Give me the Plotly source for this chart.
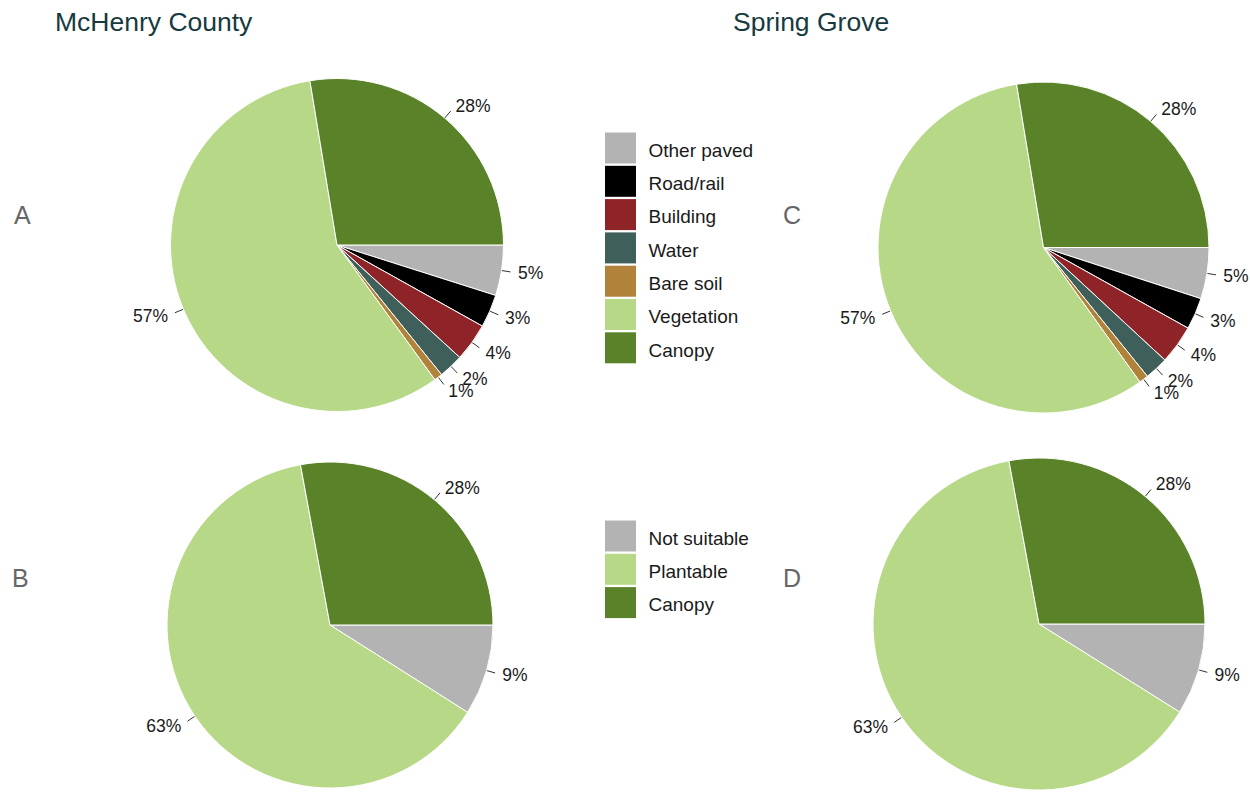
import math
import plotly.graph_objects as go

# ---------------- data ----------------
cover_labels = ["Other paved", "Road/rail", "Building", "Water", "Bare soil", "Vegetation", "Canopy"]
mchenry_cover = [4.9, 3.2, 3.7, 2.4, 0.8, 57.4, 27.6]
springgrove_cover = [5.0, 3.1, 3.8, 2.3, 0.9, 57.3, 27.6]

plant_labels = ["Not suitable", "Plantable", "Canopy"]
mchenry_plant = [9.0, 63.1, 27.9]
springgrove_plant = [8.9, 63.2, 27.9]

cover_colors = {"Canopy": "#5a8229", "Vegetation": "#b7d886", "Bare soil": "#b0823a",
                "Water": "#3f5f5a", "Building": "#8e2328", "Road/rail": "#000000",
                "Other paved": "#b3b3b3"}
plant_colors = {"Canopy": "#5a8229", "Plantable": "#b7d886", "Not suitable": "#b3b3b3"}

titles = ["McHenry County", "Spring Grove"]
panel_letters = ["A", "B", "C", "D"]

# ---------------- layout constants (pixels) ----------------
W, H = 1250, 793
pies = [
    # (cx, cy, r, labels, values, colors)
    (337, 245, 166.5, cover_labels, mchenry_cover, cover_colors),
    (330, 625, 163, plant_labels, mchenry_plant, plant_colors),
    (1043.5, 247.5, 165.5, cover_labels, springgrove_cover, cover_colors),
    (1039, 624, 166, plant_labels, springgrove_plant, plant_colors),
]
letter_pos = [(22, 215), (20, 578), (792, 215), (792, 578)]
title_pos = [(154, 22), (811, 22)]
TEXT_DY = 2  # small baseline correction for text rendering

fig = go.Figure()

label_font = dict(family="Liberation Sans, Arial, sans-serif", size=17.5, color="#1a1a1a")

for (cx, cy, r, labs, vals, cmap) in pies:
    fig.add_trace(go.Pie(
        labels=labs, values=vals, sort=False, direction="clockwise", rotation=90,
        marker=dict(colors=[cmap[l] for l in labs], line=dict(color="white", width=1)),
        textinfo="none", hoverinfo="label+percent", showlegend=False,
        domain=dict(x=[(cx - r) / W, (cx + r) / W], y=[1 - (cy + r) / H, 1 - (cy - r) / H]),
    ))
    # leader ticks and percentage labels derived from the values (clockwise from 3 o'clock)
    total = sum(vals)
    cum = 0.0
    lx, ly = [], []
    right = dict(x=[], y=[], t=[])
    left = dict(x=[], y=[], t=[])
    for v in vals:
        mid = -2 * math.pi * (cum + v / 2) / total
        cum += v
        c, s = math.cos(mid), math.sin(mid)
        lx += [cx + r * 1.0 * c, cx + r * 1.055 * c, None]
        ly += [cy - r * 1.0 * s, cy - r * 1.055 * s, None]
        side = right if c >= 0 else left
        side["x"].append(cx + r * 1.1 * c)
        side["y"].append(cy - r * 1.1 * s + TEXT_DY)
        side["t"].append(f"{round(100 * v / total)}%")
    fig.add_trace(go.Scatter(x=lx, y=ly, mode="lines", line=dict(color="#333333", width=1),
                             hoverinfo="skip", showlegend=False))
    for side, pos in [(right, "middle right"), (left, "middle left")]:
        fig.add_trace(go.Scatter(x=side["x"], y=side["y"], mode="text", text=side["t"],
                                 textposition=pos, textfont=label_font,
                                 hoverinfo="skip", showlegend=False, cliponaxis=False))

# custom legends (large square keys)
legend_font = dict(family="Liberation Sans, Arial, sans-serif", size=19, color="#1a1a1a")
for items, cmap, y0 in [(cover_labels, cover_colors, 148), (plant_labels, plant_colors, 536)]:
    ys = [y0 + 33.3 * i for i in range(len(items))]
    fig.add_trace(go.Scatter(x=[620.5] * len(items), y=ys, mode="markers",
                             marker=dict(symbol="square", size=31, color=[cmap[i] for i in items],
                                         line=dict(width=0)),
                             hoverinfo="skip", showlegend=False, cliponaxis=False))
    fig.add_trace(go.Scatter(x=[648.5] * len(items), y=[y + 2 + TEXT_DY for y in ys], mode="text",
                             text=items, textposition="middle right", textfont=legend_font,
                             hoverinfo="skip", showlegend=False, cliponaxis=False))

annotations = []
for (x, y), t in zip(title_pos, titles):
    annotations.append(dict(x=x, y=y, xref="x", yref="y", text=t, showarrow=False,
                            font=dict(family="Liberation Sans, Arial, sans-serif", size=26.5, color="#163a40")))
for (x, y), t in zip(letter_pos, panel_letters):
    annotations.append(dict(x=x, y=y, xref="x", yref="y", text=t, showarrow=False,
                            font=dict(family="Liberation Sans, Arial, sans-serif", size=25, color="#666666")))

fig.update_layout(
    width=W, height=H, margin=dict(l=0, r=0, t=0, b=0),
    paper_bgcolor="white", plot_bgcolor="white",
    xaxis=dict(range=[0, W], domain=[0, 1], visible=False, fixedrange=True),
    yaxis=dict(range=[H, 0], domain=[0, 1], visible=False, fixedrange=True),
    annotations=annotations,
)

fig.write_html("out.html", config={"displayModeBar": False},
               post_script="document.body.style.margin='0';document.body.style.overflow='hidden';")
